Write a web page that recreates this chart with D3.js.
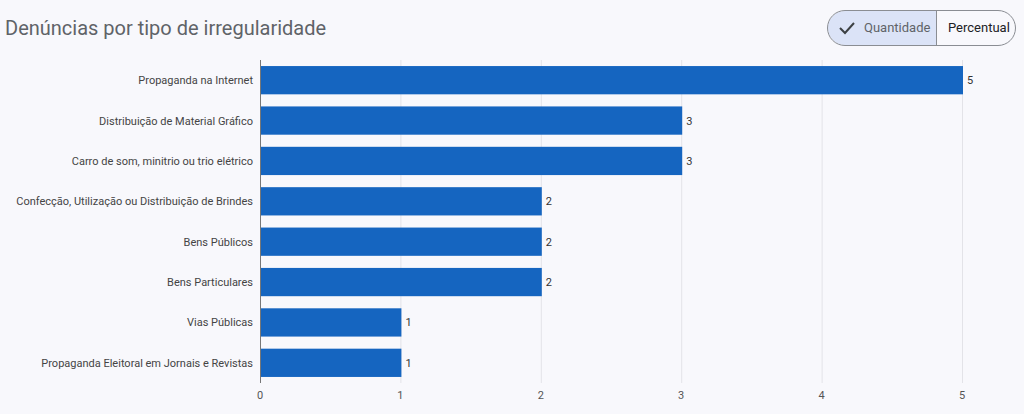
<!DOCTYPE html>
<html>
<head>
<meta charset="utf-8">
<script src="https://cdn.jsdelivr.net/npm/d3@7"></script>
<style>
  body { margin: 0; background: #f8f8fc; font-family: Roboto, sans-serif; }
  svg { display: block; }
</style>
</head>
<body>
<svg id="chart" width="1024" height="414"></svg>
<script>
  // chart data
  categories = [
    "Propaganda na Internet",
    "Distribuição de Material Gráfico",
    "Carro de som, minitrio ou trio elétrico",
    "Confecção, Utilização ou Distribuição de Brindes",
    "Bens Públicos",
    "Bens Particulares",
    "Vias Públicas",
    "Propaganda Eleitoral em Jornais e Revistas"
  ];
  values = [5, 3, 3, 2, 2, 2, 1, 1];
  ticks = [0, 1, 2, 3, 4, 5];

  chart = d3.select("#chart");
  margin = { top: 60, right: 62, bottom: 31, left: 260 };
  width = 1024; height = 414;

  x = d3.scaleLinear().domain([0, 5]).range([margin.left, width - margin.right]);
  y = d3.scaleBand().domain(categories)
    .range([margin.top, height - margin.bottom])
    .paddingInner(0.3).paddingOuter(0.15);

  // title
  chart.append("text")
    .attr("x", 5).attr("y", 35)
    .attr("font-size", 20).attr("fill", "#5f6368")
    .text("Denúncias por tipo de irregularidade");

  // toggle
  toggle = chart.append("g");
  toggle.append("path")
    .attr("d", "M845,11 H937 V45 H845 A17,17 0 0 1 845,11 Z")
    .attr("fill", "#dbe3f7");
  toggle.append("rect")
    .attr("x", 827.5).attr("y", 10.5).attr("width", 188).attr("height", 35)
    .attr("rx", 17.5).attr("fill", "none").attr("stroke", "#8a8d93");
  toggle.append("line")
    .attr("x1", 936.5).attr("x2", 936.5).attr("y1", 10.5).attr("y2", 45.5)
    .attr("stroke", "#8a8d93");
  toggle.append("path")
    .attr("d", "M840,28 l5,5 l9,-10")
    .attr("fill", "none").attr("stroke", "#3c4043").attr("stroke-width", 2);
  toggle.append("text").attr("x", 864).attr("y", 32)
    .attr("font-size", 13).attr("fill", "#5f6368").text("Quantidade");
  toggle.append("text").attr("x", 948).attr("y", 32)
    .attr("font-size", 13).attr("fill", "#202124").text("Percentual");

  // grid
  chart.append("g").selectAll("line").data(ticks).join("line")
    .attr("x1", d => x(d) + 0.5).attr("x2", d => x(d) + 0.5)
    .attr("y1", margin.top).attr("y2", height - margin.bottom)
    .attr("stroke", d => d === 0 ? "#777" : "#e3e3e8");

  // x axis labels
  chart.append("g").selectAll("text").data(ticks).join("text")
    .attr("x", d => x(d)).attr("y", height - margin.bottom + 16)
    .attr("text-anchor", "middle").attr("font-size", 11).attr("fill", "#555")
    .text(d => d);

  // y labels
  chart.append("g").selectAll("text").data(categories).join("text")
    .attr("x", margin.left - 7).attr("y", d => y(d) + y.bandwidth() / 2 + 4)
    .attr("text-anchor", "end").attr("font-size", 11).attr("fill", "#444")
    .text(d => d);

  // bars
  chart.append("g").selectAll("rect").data(values).join("rect")
    .attr("x", x(0) + 1).attr("y", (d, i) => y(categories[i]))
    .attr("width", d => x(d) - x(0)).attr("height", y.bandwidth())
    .attr("fill", "#1565c0");

  chart.append("g").selectAll("text").data(values).join("text")
    .attr("x", d => x(d) + 5).attr("y", (d, i) => y(categories[i]) + y.bandwidth() / 2 + 4)
    .attr("font-size", 11).attr("fill", "#333")
    .text(d => d);
</script>
</body>
</html>
